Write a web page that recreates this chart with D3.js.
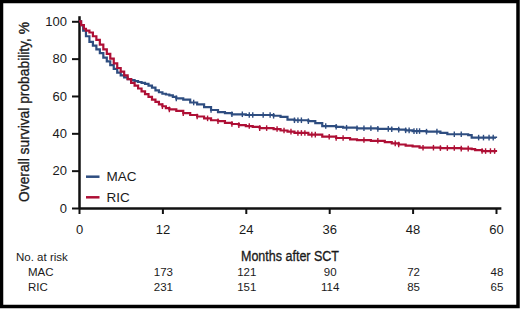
<!DOCTYPE html>
<html>
<head>
<meta charset="utf-8">
<script src="https://cdn.jsdelivr.net/npm/d3@7"></script>
<style>
  html, body { margin: 0; padding: 0; background: #fff; }
  svg { display: block; }
  text { font-family: "Liberation Sans", Arial, sans-serif; fill: #1a1a1a; }
  .narrow { font-family: "Liberation Sans Narrow", "Liberation Sans", Arial, sans-serif; stroke: #1a1a1a; stroke-width: 0.35; }
</style>
</head>
<body>
<div id="chart"></div>
<script>
// Kaplan-Meier curves: overall survival, MAC vs RIC

// Tick values for both axes
const xTicks = [0, 12, 24, 36, 48, 60];
const yTicks = [0, 20, 40, 60, 80, 100];

// Step points (months, survival %)
const macMonths = [0, 0.3, 0.6, 1, 1.5, 2, 2.5, 3, 3.5, 4, 4.5, 5, 5.5, 6, 6.5, 7, 7.5, 8, 8.5, 9, 9.5, 10, 10.5, 11, 11.5, 12, 12.5, 13, 13.5, 14, 15, 16, 17, 18, 19, 20, 21, 22, 24, 28, 29, 30, 31, 33, 34, 35, 37, 38, 40, 43, 45, 46, 47, 48, 50, 52, 53, 56, 56.5, 60];
const macSurv = [100, 98, 95, 92, 89, 87, 85, 83, 80.5, 78.5, 76.5, 74.5, 72.5, 71, 70, 69, 68.5, 68, 67.5, 67, 66.5, 65.5, 64.5, 63, 62, 61.2, 60.8, 60.3, 59.5, 58.7, 58, 56.5, 55.5, 54, 52.5, 51.3, 50.8, 50.2, 49.8, 49.4, 48.8, 47.3, 47, 46.5, 45.5, 43.9, 43.5, 43, 42.7, 42.4, 42.2, 42, 41.6, 41.2, 40.9, 40.2, 39.5, 39, 37.7, 37.5];

const ricMonths = [0, 0.3, 0.7, 1, 1.5, 2, 2.5, 3, 3.5, 4, 4.5, 5, 5.5, 6, 6.5, 7, 7.5, 8, 8.5, 9, 9.5, 10, 10.5, 11, 11.5, 12, 12.5, 13, 14, 15, 16, 17, 18, 19, 20, 21, 22, 23, 24, 25, 26, 28, 29, 30, 31, 33, 35, 37, 39, 40, 42, 44, 45, 46, 47, 48, 49, 52, 55, 56.5, 57, 58, 60];
const ricSurv = [100, 98, 96, 95, 94, 92, 90, 87.5, 85, 82.5, 80, 77.5, 75, 73, 71, 69, 67, 65.5, 64, 62.5, 61, 59.5, 58, 56.8, 55.5, 54.5, 53.5, 52.8, 52, 50.8, 49.8, 49, 48, 47, 46.5, 45.6, 45, 44.4, 43.9, 43.4, 42.8, 42.3, 41.5, 40.9, 40.2, 39.3, 38.2, 37.5, 36.8, 36.4, 36, 35.3, 34.6, 34, 33.4, 33, 32.3, 32.1, 31.8, 31.5, 31, 30.5, 30];

// Censoring marks (months)
const macCensor = [14, 16.5, 19, 22, 23.5, 24.5, 25, 26.5, 27.5, 28, 31, 31.5, 32, 33, 35.5, 37, 38.5, 40, 41, 42, 43, 44.5, 45, 46, 47, 47.5, 48.2, 48.6, 49, 50, 51.5, 54, 55, 57.5, 58.2, 59, 59.6];
const ricCensor = [12, 13, 15, 17, 18.5, 20, 22, 23, 24.5, 26, 27, 28.5, 29.5, 30.5, 31.5, 32, 32.5, 33.5, 34, 36, 37, 38, 41, 43, 45.5, 46, 49.5, 51, 52, 53, 54, 55, 56, 58, 58.5, 59.2, 59.8];

// Number at risk table
const riskGroups = ['MAC', 'RIC'];
const riskTimes = [12, 24, 36, 48, 60];
const macRisk = [173, 121, 90, 72, 48];
const ricRisk = [231, 151, 114, 85, 65];

const seriesColors = ['#2e4d80', '#ae0f35'];

// Build the list of series from the arrays above
function buildSeries() {
  return [
    { name: 'MAC', points: macMonths.map((m, i) => ({ m: m, s: macSurv[i] })), censor: macCensor, risk: macRisk },
    { name: 'RIC', points: ricMonths.map((m, i) => ({ m: m, s: ricSurv[i] })), censor: ricCensor, risk: ricRisk }
  ];
}

// Survival value at a given time (step function lookup)
function survivalAt(points, t) {
  let v = points[0].s;
  points.forEach(p => { if (p.m <= t) v = p.s; });
  return v;
}

function createChart(series) {
  const width = 520;
  const height = 309;

  const svg = d3.select('#chart').append('svg')
    .attr('width', width)
    .attr('height', height);

  const color = d3.scaleOrdinal().domain(riskGroups).range(seriesColors);

  // Scales (x line runs slightly past 60, y line slightly past 100)
  const x = d3.scaleLinear().domain([0, 60.7]).range([79, 79 + 60.7 * 6.95]);
  const y = d3.scaleLinear().domain([0, 103]).range([208, 208 - 103 * 1.867]);

  // Y axis
  const yAxis = svg.append('g')
    .attr('transform', `translate(${x(0)},0)`)
    .call(d3.axisLeft(y).tickValues(yTicks).tickSize(7).tickSizeOuter(0).tickPadding(5));
  yAxis.select('.domain').attr('stroke', '#111').attr('stroke-width', 2.5);
  yAxis.selectAll('.tick line').attr('stroke', '#111').attr('stroke-width', 2);
  yAxis.selectAll('.tick text')
    .attr('font-family', '"Liberation Sans", Arial, sans-serif')
    .attr('font-size', 13).attr('fill', '#1a1a1a');

  // X axis
  const xAxis = svg.append('g')
    .attr('transform', `translate(0,${y(0)})`)
    .call(d3.axisBottom(x).tickValues(xTicks).tickSize(6).tickSizeOuter(0).tickPadding(11));
  xAxis.select('.domain').attr('stroke', '#111').attr('stroke-width', 2.5);
  xAxis.selectAll('.tick line').attr('stroke', '#111').attr('stroke-width', 2);
  xAxis.selectAll('.tick text')
    .attr('font-family', '"Liberation Sans", Arial, sans-serif')
    .attr('font-size', 13).attr('fill', '#1a1a1a');

  // Axis titles
  svg.append('text')
    .attr('class', 'narrow')
    .attr('transform', 'translate(29,112) rotate(-90)')
    .attr('text-anchor', 'middle')
    .attr('font-size', 15)
    .attr('textLength', 180)
    .attr('lengthAdjust', 'spacingAndGlyphs')
    .text('Overall survival probability, %');

  svg.append('text')
    .attr('class', 'narrow')
    .attr('x', 290)
    .attr('y', 261)
    .attr('text-anchor', 'middle')
    .attr('font-size', 15.5)
    .attr('textLength', 98)
    .attr('lengthAdjust', 'spacingAndGlyphs')
    .text('Months after SCT');

  // Survival curves
  const line = d3.line()
    .x(d => x(d.m))
    .y(d => y(d.s))
    .curve(d3.curveStepAfter);

  const curves = svg.selectAll('.curve')
    .data(series)
    .enter().append('g')
    .attr('class', 'curve');

  curves.append('path')
    .attr('d', d => line(d.points))
    .attr('fill', 'none')
    .attr('stroke', d => color(d.name))
    .attr('stroke-width', 2.2);

  // Censor ticks
  curves.each(function (d) {
    d3.select(this).selectAll('line')
      .data(d.censor)
      .enter().append('line')
      .attr('x1', t => x(t))
      .attr('x2', t => x(t))
      .attr('y1', t => y(survivalAt(d.points, t)) - 2.8)
      .attr('y2', t => y(survivalAt(d.points, t)) + 2.8)
      .attr('stroke', color(d.name))
      .attr('stroke-width', 1.4);
  });

  // Legend
  const legend = svg.selectAll('.legend')
    .data(series)
    .enter().append('g')
    .attr('class', 'legend')
    .attr('transform', (d, i) => `translate(86, ${176.7 + 20.6 * i})`);

  legend.append('line')
    .attr('x1', 0).attr('x2', 13.5)
    .attr('stroke', d => color(d.name))
    .attr('stroke-width', 2.5);

  legend.append('text')
    .attr('x', 20.5)
    .attr('y', 4.7)
    .attr('font-size', 13.5)
    .text(d => d.name);

  // Number at risk table
  svg.append('text')
    .attr('x', 16)
    .attr('y', 261)
    .attr('font-size', 11.5)
    .text('No. at risk');

  const rows = svg.selectAll('.risk-row')
    .data(series)
    .enter().append('g')
    .attr('class', 'risk-row')
    .attr('transform', (d, i) => `translate(0, ${276 + 15 * i})`);

  rows.append('text')
    .attr('x', 28)
    .attr('font-size', 11.5)
    .text(d => d.name);

  rows.selectAll('.risk-n')
    .data(d => d.risk.map((n, i) => ({ t: riskTimes[i], n: n })))
    .enter().append('text')
    .attr('class', 'risk-n')
    .attr('x', d => x(d.t) + 1)
    .attr('text-anchor', 'middle')
    .attr('font-size', 11.5)
    .text(d => d.n);

  // Frame round the figure
  svg.append('rect')
    .attr('x', 1.5).attr('y', 1.5)
    .attr('width', width - 3.5).attr('height', height - 4)
    .attr('fill', 'none')
    .attr('stroke', '#000')
    .attr('stroke-width', 3.5);
}

createChart(buildSeries());
</script>
</body>
</html>
